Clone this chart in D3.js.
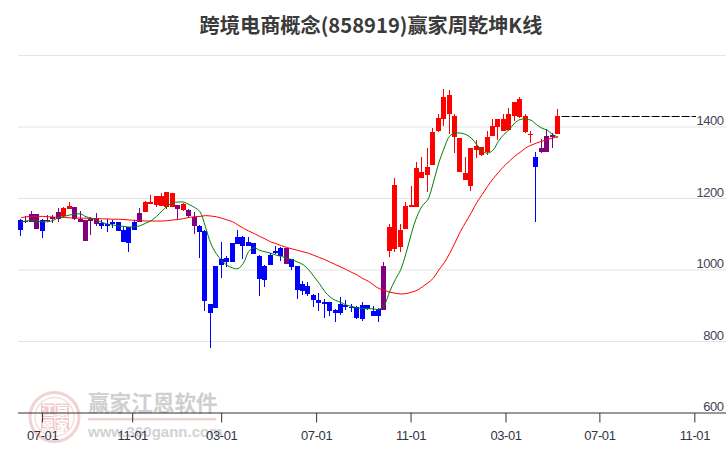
<!DOCTYPE html>
<html><head><meta charset="utf-8">
<script src="https://cdn.jsdelivr.net/npm/d3@7"></script>
<style>html,body{margin:0;padding:0;background:#fff}svg{display:block}</style>
</head><body><svg id="c" width="726" height="450"></svg>
<script>
const titleText = "跨境电商概念(858919)赢家周乾坤K线";
const xTickIndex = [4, 20.6, 37, 54.5, 71.9, 89.4, 106.7, 124.2];
const xTickLabels = ["07-01","11-01","03-01","07-01","11-01","03-01","07-01","11-01"];
const yGridValues = [800,1000,1200,1400,1600];
const yLabelValues = [600,800,1000,1200,1400];
const bodyTop = [1139,1137,1158,1156,1141,1141,1149,1162,1173,1178,1175,1142,1139,1143,1144,1131,1130,1135,1133,1111,1119,1134,1159,1189,1190,1206,1206,1217,1214,1181,1184,1167,1147,1122,1109,904,1011,1032,1033,1075,1092,
1093,1079,1076,1040,1012,1043,1054,1062,1062,1032,1012,962,956,931,917,911,911,889,905,903,897,897,903,903,886,891,
1012,1121,1239,1113,1180,1183,1284,1275,1289,1387,1426,1485,1490,1432,1370,1270,1342,1348,1345,1373,1404,1421,1421,1435,1471,1479,1432,1381,1317,1340,1376,1379,1432];
const bodyBottom = [1111,1136,1135,1114,1109,1139,1144,1143,1150,1171,1142,1135,1081,1137,1128,1122,1122,1130,1109,1079,1076,1112,1135,1163,1184,1181,1179,1175,1176,1170,1167,1151,1123,1107,914,880,894,1014,1023,1023,1073,
1066,1066,1046,976,971,1013,1047,1040,1018,1009,945,942,933,917,908,905,886,881,880,897,894,866,863,891,872,872,
889,1052,1060,1063,1116,1177,1175,1258,1267,1295,1390,1421,1437,1373,1275,1253,1236,1337,1323,1331,1376,1401,1390,1393,1432,1429,1387,1377,1289,1331,1331,1373,1381];
const highs = [1142,1150,1164,1156,1143,1153,1153,1173,1175,1190,1176,1164,1141,1149,1159,1141,1144,1139,1135,1121,1121,1139,1173,1192,1209,1206,1214,1219,1216,1181,1188,1171,1163,1125,1111,904,1011,1078,1039,1075,1111,
1096,1093,1076,1043,1015,1047,1068,1064,1062,1032,1012,970,967,933,936,919,911,891,925,917,905,900,911,903,900,894,
1021,1130,1258,1130,1189,1236,1303,1317,1340,1398,1435,1507,1504,1435,1370,1317,1342,1365,1345,1390,1423,1421,1437,1454,1471,1485,1437,1390,1331,1367,1395,1384,1449];
const lows = [1095,1132,1135,1114,1089,1135,1132,1135,1149,1171,1141,1135,1081,1097,1124,1114,1106,1117,1109,1079,1050,1111,1135,1163,1184,1176,1179,1171,1175,1141,1165,1147,1100,1034,885,782,894,978,1008,1023,1073,
1032,1066,1046,928,953,1013,1046,1026,1018,1001,919,931,928,897,886,866,872,855,875,889,883,862,858,889,872,855,
887,1035,1050,1049,1116,1177,1175,1258,1219,1295,1387,1404,1381,1326,1275,1253,1222,1314,1320,1323,1376,1365,1390,1390,1418,1426,1384,1354,1135,1326,1331,1342,1381];
const tones = ["b","p","p","p","b","p","p","p","r","r","p","p","p","p","p","b","b","b","b","b","b","b","p","r","r","r","r","r","r","p","r","p","p","b","b","b","b","b","b","b","b",
"b","b","b","b","b","b","b","b","p","b","b","b","b","b","b","b","b","b","b","b","b","b","b","b","b","b",
"p","r","r","r","r","r","r","r","r","r","r","r","r","r","r","r","r","r","r","r","r","r","r","r","r","r","r","r","b","p","p","p","r"];
const maShort = [1135,1137,1139,1137,1135,1135,1139,1147,1150,1154,1156,1157,1149,1145,1139,1133,1128,1126,1123,1122,1120,1121,1124,1131,1138,1150,1165,1179,1188,1190,1190,1183,1175,1163,1121,1074,1046,1027,1013,1006,1004,
1019,1052,1062,1055,1051,1047,1042,1038,1033,1029,1022,1015,1001,982,962,940,924,915,909,902,898,894,892,892,891,890,
903,941,973,1001,1048,1104,1150,1180,1197,1244,1299,1341,1374,1383,1383,1379,1369,1351,1332,1327,1335,1360,1379,1393,1411,1421,1422,1419,1407,1397,1391,1379,1372];
const maLong = [1146,1149,1150,1150,1150,1149,1148,1147,1147,1146,1145,1145,1145,1144,1144,1143,1143,1142,1142,1141,1140,1139,1138,1137,1137,1137,1137,1138,1140,1141,1144,1147,1149,1150,1152,1151,1149,1145,1140,1135,1126,
1117,1109,1102,1094,1087,1079,1074,1068,1063,1059,1055,1051,1047,1041,1035,1029,1022,1015,1008,1001,993,986,976,969,958,948,
943,938,935,933,934,938,943,953,964,977,1000,1020,1046,1076,1108,1134,1160,1188,1211,1234,1255,1273,1290,1304,1318,1329,1341,1349,1355,1360,1365,1369,1372];
const lastPrice = 1431;
const toneColor = {r:"#ff0000", b:"#0000ff", p:"#800080"};
const logoChars = ["江","赢","恩","家"];

const svg = d3.select("#c");
const x = d3.scaleLinear().domain([0,99]).range([20.4,557.6]);
const y = d3.scaleLinear().domain([600,1600]).range([413,55.5]);
const latin = "Arial, 'Liberation Sans', sans-serif";
const cjk = "'Noto Sans CJK SC', sans-serif";

// grid
svg.append("g").selectAll("line").data(yGridValues).join("line")
  .attr("x1",18).attr("x2",726).attr("y1",d=>y(d)).attr("y2",d=>y(d))
  .attr("stroke","#e4e4e4").attr("stroke-width",1.2);

// watermark
const wm = svg.append("g");
wm.append("circle").attr("cx",54.5).attr("cy",417).attr("r",24.5).attr("fill","none").attr("stroke","#f2d3d3").attr("stroke-width",3);
wm.append("circle").attr("cx",54.5).attr("cy",417).attr("r",19.5).attr("fill","none").attr("stroke","#f5dede").attr("stroke-width",1.5);
logoChars.forEach((t,i)=>{
  const bx = 41 + (i%2)*14.5, by = 403.5 + Math.floor(i/2)*14.5;
  wm.append("rect").attr("x",bx).attr("y",by).attr("width",13.5).attr("height",13.5).attr("fill","#f2c9c9");
  wm.append("text").text(t).attr("x",bx+6.75).attr("y",by+11.5).attr("text-anchor","middle").attr("font-family",cjk)
    .attr("font-size",13).attr("font-weight",700).attr("fill","#fff");
});
wm.append("text").text("赢家江恩软件").attr("x",88).attr("y",411).attr("font-family",cjk).attr("font-size",21.6)
  .attr("font-weight",700).attr("fill","#cfcfcf");
wm.append("rect").attr("x",88).attr("y",418).attr("width",128).attr("height",2.5).attr("fill","#f0d4d4");
wm.append("text").text("www.360gann.com").attr("x",88).attr("y",437).attr("font-family","'Liberation Sans',Arial,sans-serif")
  .attr("font-size",15).attr("font-weight",700).attr("fill","#d2d2d2");

// x axis
const axis = d3.axisBottom(x).tickValues(xTickIndex).tickSize(9.5).tickPadding(0)
  .tickFormat((d,i)=>xTickLabels[i]);
const gx = svg.append("g").attr("transform","translate(0,413)").call(axis);
gx.select(".domain").remove();
gx.append("line").attr("x1",18).attr("x2",726).attr("y1",0).attr("y2",0).attr("stroke","#333");
gx.selectAll(".tick line").attr("stroke","#333");
gx.selectAll(".tick text").attr("fill","#334").attr("font-family",latin).attr("font-size",13)
  .attr("letter-spacing","-0.4").attr("dy",0).attr("y",27);

// y labels
svg.append("g").selectAll("text").data(yLabelValues).join("text")
  .attr("x",723.5).attr("y",d=>y(d)-2).attr("text-anchor","end").attr("letter-spacing","-0.5")
  .attr("font-family",latin).attr("font-size",13).attr("fill","#445").text(d=>d);

// candles
const px = i=>Math.floor(x(i));
const idx = d3.range(bodyTop.length);
svg.append("g").attr("shape-rendering","crispEdges").selectAll("rect.w").data(idx).join("rect")
  .attr("x",px).attr("width",1).attr("y",i=>y(highs[i])).attr("height",i=>y(lows[i])-y(highs[i]))
  .attr("fill",i=>toneColor[tones[i]]);
svg.append("g").attr("shape-rendering","crispEdges").selectAll("rect.b").data(idx).join("rect")
  .attr("x",i=>px(i)-2).attr("width",5).attr("y",i=>y(bodyTop[i])).attr("height",i=>Math.max(1,y(bodyBottom[i])-y(bodyTop[i])))
  .attr("fill",i=>toneColor[tones[i]]);

// moving averages
const line = d3.line().x((d,i)=>x(i)+0.5).y(d=>y(d)).curve(d3.curveCatmullRom);
svg.append("path").attr("d",line(maLong)).attr("fill","none").attr("stroke","#ff0000").attr("stroke-width",1);
svg.append("path").attr("d",line(maShort)).attr("fill","none").attr("stroke","#008000").attr("stroke-width",1);

// last price
svg.append("line").attr("x1",x(99)+4).attr("x2",696).attr("y1",Math.round(y(lastPrice))+0.5).attr("y2",Math.round(y(lastPrice))+0.5)
  .attr("stroke","#000").attr("stroke-dasharray","8,2");

// title
svg.append("text").text(titleText).attr("x",371).attr("y",33).attr("text-anchor","middle")
  .attr("font-family",cjk).attr("font-size",20.2).attr("font-weight",700).attr("fill","#3a3a3a");
</script></body></html>
